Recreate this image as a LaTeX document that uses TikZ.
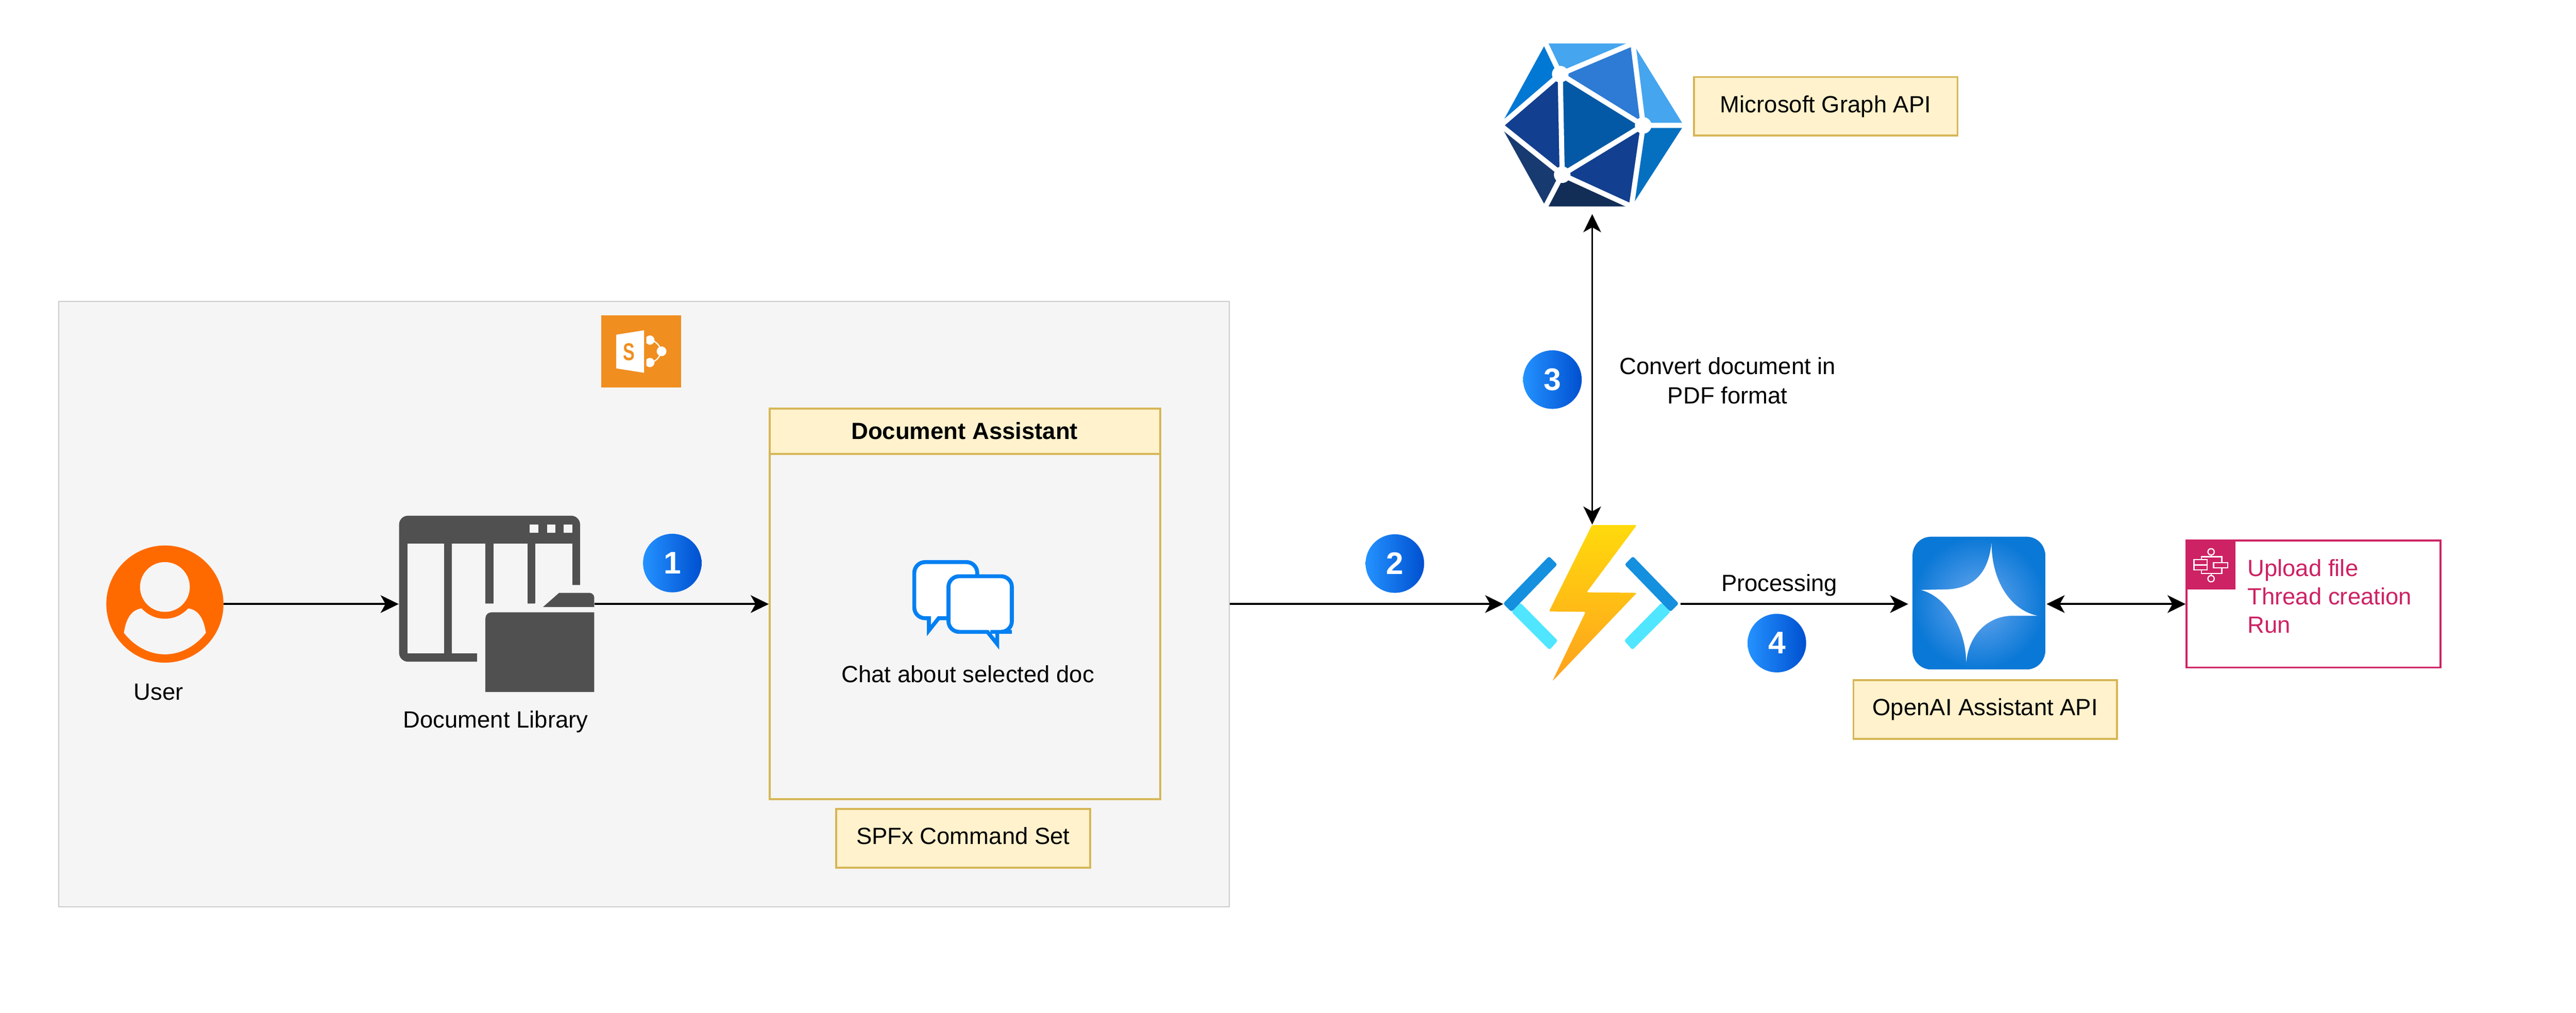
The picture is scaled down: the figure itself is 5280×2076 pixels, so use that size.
\documentclass[tikz,border=0pt]{standalone}
\usepackage{fontspec}
\setmainfont{Liberation Sans}
\usetikzlibrary{arrows.meta}

\definecolor{noteFill}{HTML}{FFF2CC}
\definecolor{noteLine}{HTML}{D6B656}
\definecolor{zoneFill}{HTML}{F5F5F5}
\definecolor{zoneLine}{HTML}{CCCCCC}
\definecolor{libDark}{HTML}{505050}
\definecolor{userOrange}{HTML}{FF6A00}
\definecolor{spOrange}{HTML}{F08E20}
\definecolor{chatBlue}{HTML}{0080F2}
\definecolor{logicPink}{HTML}{CD2264}
\definecolor{badgeL}{HTML}{2492FF}
\definecolor{badgeR}{HTML}{0050D0}
\definecolor{facetA}{HTML}{0078D4}
\definecolor{facetB}{HTML}{45A5EE}
\definecolor{facetC}{HTML}{2D7BD4}
\definecolor{facetD}{HTML}{0570C0}
\definecolor{facetE}{HTML}{123F8F}
\definecolor{facetF}{HTML}{122E57}
\definecolor{facetG}{HTML}{173A70}
\definecolor{facetH}{HTML}{0359A5}
\definecolor{funcCyan}{HTML}{50E6FF}
\definecolor{funcBlue}{HTML}{1490DF}
\definecolor{boltTop}{HTML}{FFDA0C}
\definecolor{boltLow}{HTML}{FFA01E}
\definecolor{starGlow}{HTML}{6CA9F0}
\definecolor{starEdge}{HTML}{0A78D6}

\tikzset{
    conn/.style={line width=1.14pt, -{Stealth[length=3.7mm,width=3.6mm,inset=1mm]}},
    biconn/.style={line width=1.14pt, {Stealth[length=3.7mm,width=3.6mm,inset=1mm]}-{Stealth[length=3.7mm,width=3.6mm,inset=1mm]}},
    lbl/.style={font=\fontsize{13.66}{17}\selectfont, inner sep=0pt, anchor=base},
    note/.style={draw=noteLine, fill=noteFill, line width=1.14pt, minimum width=5.4cm, minimum height=1.2cm, inner sep=0pt,
        font=\fontsize{13.66}{17}\selectfont, text height=0.35cm, text depth=0.1cm},
    badge/.style={circle, minimum size=1.2cm, inner sep=0pt, left color=badgeL, right color=badgeR, text=white,
        font=\fontsize{18.2}{20}\selectfont\bfseries},
    hook/.style={minimum width=#1, inner sep=0pt},
    chatline/.style={draw=chatBlue, fill=white, line width=2.3pt, miter limit=10},
    facetgap/.style={white, line width=3pt},
}

\begin{document}
\begin{tikzpicture}[x=0.01cm, y=-0.01cm]
    \useasboundingbox (0,0) rectangle (5280,2076);

    % sharepoint zone
    \node[draw=zoneLine, fill=zoneFill, line width=0.6pt, minimum width=23.98cm, minimum height=12.4cm, inner sep=0pt] (zone) at (1320,1238) {};
    \fill[spOrange] (1232,646) rectangle (1396,794);
    \fill[white] (1263,686) -- (1320,677) -- (1320,764) -- (1263,755) -- cycle;
    \node[inner sep=0pt, text=spOrange, font=\fontsize{14.2}{16}\selectfont\bfseries] (spletter) at (1289,721) {\scalebox{0.72}[1]{S}};
    \begin{scope}
        \clip (1325,680) rectangle (1370,760);
        \fill[white] (1332,697) circle (9.5);
        \fill[white] (1332,743) circle (9.5);
    \end{scope}
    \fill[white] (1356,720) circle (10);
    \draw[white, line width=0.7pt] (1338,698) .. controls (1346,702) and (1352,708) .. (1355,718);
    \draw[white, line width=0.7pt] (1338,742) .. controls (1346,738) and (1352,732) .. (1355,722);

    % user
    \node[circle, fill=userOrange, minimum size=2.4cm, inner sep=0pt] (user) at (338,1238) {};
    \fill[zoneFill] (338,1203) circle (51);
    \fill[zoneFill] (290,1247) .. controls (305,1262) and (320,1268) .. (338,1268)
        .. controls (356,1268) and (371,1262) .. (386,1247)
        .. controls (408,1250) and (418,1270) .. (422,1297)
        .. controls (400,1325) and (370,1341) .. (338,1341)
        .. controls (306,1341) and (276,1325) .. (254,1297)
        .. controls (258,1270) and (268,1250) .. (290,1247) -- cycle;
    \node[lbl] (userlbl) at (325,1435) {User};

    % document library
    \node[hook=4cm, minimum height=3.61cm] (lib) at (1018,1238) {};
    \fill[libDark, rounded corners=0.18cm] (818,1057) rectangle (1189,1356);
    \fill[zoneFill] (835,1114) rectangle (910,1339);
    \fill[zoneFill] (926,1114) rectangle (995,1339);
    \fill[zoneFill] (1012,1114) rectangle (1081,1260);
    \fill[zoneFill] (1097,1114) rectangle (1173,1260);
    \fill[zoneFill] (1086,1075) rectangle (1104,1092);
    \fill[zoneFill] (1121,1075) rectangle (1138,1092);
    \fill[zoneFill] (1155,1075) rectangle (1173,1092);
    \fill[zoneFill] (978,1425) -- (978,1237) -- (1096,1237) -- (1146,1199) -- (1225,1199) -- (1225,1425) -- cycle;
    \fill[libDark] (1218,1418) -- (995,1418) [rounded corners=0.12cm] -- (995,1255) -- (1100,1255) [sharp corners] -- (1218,1255) -- cycle;
    \fill[libDark] (1113,1244) -- (1146,1215) [rounded corners=0.1cm] -- (1218,1215) -- (1218,1236) [sharp corners] -- (1218,1244) -- cycle;
    \node[lbl] (liblbl) at (1016,1492) {Document Library};

    % command set panel
    \node[draw=noteLine, line width=1.14pt, minimum width=8cm, minimum height=8cm, inner sep=0pt] (panel) at (1978,1238) {};
    \node[draw=noteLine, fill=noteFill, line width=1.14pt, minimum width=8cm, minimum height=0.92cm, inner sep=0pt] (panelhead) at (1978,884) {};
    \node[lbl, font=\fontsize{13.66}{17}\selectfont\bfseries] (paneltitle) at (1977,900) {Document Assistant};
    \draw[chatline] (1904,1267) [rounded corners=0.22cm] -- (1874,1267) -- (1874,1152) -- (2003,1152) -- (2003,1267) -- (1960,1267) [sharp corners] -- (1924,1267) -- (1904,1292) -- cycle;
    \draw[chatline] (2024,1295) [rounded corners=0.22cm] -- (1944,1295) -- (1944,1181) -- (2074,1181) -- (2074,1295) -- (2052,1295) [sharp corners] -- (2044,1295) -- (2044,1320) -- cycle;
    \node[lbl] (chatlbl) at (1984,1399) {Chat about selected doc};
    \node[note, minimum width=5.2cm] (spfx) at (1974,1718) {SPFx Command Set};

    % graph icon
    \coordinate (gTL) at (3168,89);
    \coordinate (gTR) at (3347,89);
    \coordinate (gR) at (3451,257);
    \coordinate (gBR) at (3344,423);
    \coordinate (gBL) at (3168,423);
    \coordinate (gL) at (3076,257);
    \coordinate (gA) at (3198,152);
    \coordinate (gB) at (3368,257);
    \coordinate (gC) at (3202,358);
    \node[hook=3.75cm, minimum height=3.64cm] (graph) at (3263.5,256) {};
    \fill[facetA] (gTL) -- (gA) -- (gL) -- cycle;
    \fill[facetB] (gTL) -- (gTR) -- (gA) -- cycle;
    \fill[facetC] (gTR) -- (gB) -- (gA) -- cycle;
    \fill[facetB] (gTR) -- (gR) -- (gB) -- cycle;
    \fill[facetD] (gR) -- (gBR) -- (gB) -- cycle;
    \fill[facetE] (gBR) -- (gC) -- (gB) -- cycle;
    \fill[facetF] (gBR) -- (gBL) -- (gC) -- cycle;
    \fill[facetG] (gBL) -- (gL) -- (gC) -- cycle;
    \fill[facetE] (gL) -- (gA) -- (gC) -- cycle;
    \fill[facetH] (gA) -- (gB) -- (gC) -- cycle;
    \draw[facetgap] (gL) -- (gA) -- (gTL);
    \draw[facetgap] (gTR) -- (gA) -- (gC) -- (gL);
    \draw[facetgap] (gA) -- (gB) -- (gC) -- (gBL);
    \draw[facetgap] (gC) -- (gBR) -- (gB) -- (gR);
    \draw[facetgap] (gTR) -- (gB);
    \fill[white] (gA) circle (17);
    \fill[white] (gB) circle (17);
    \fill[white] (gC) circle (17);
    \node[note] (graphlbl) at (3742,218) {Microsoft Graph API};

    % function icon
    \node[hook=3.62cm, minimum height=3.24cm] (func) at (3263,1238) {};
    \fill[funcCyan, rounded corners=0.04cm] (3098,1254) -- (3116,1235) -- (3193,1313) -- (3176,1332) -- cycle;
    \fill[funcCyan, rounded corners=0.04cm] (3424,1254) -- (3406,1235) -- (3329,1313) -- (3346,1332) -- cycle;
    \fill[funcBlue, rounded corners=0.04cm] (3175,1140) -- (3192,1157) -- (3098,1254) -- (3081,1237) -- cycle;
    \fill[funcBlue, rounded corners=0.04cm] (3347,1140) -- (3330,1157) -- (3424,1254) -- (3441,1237) -- cycle;
    \shade[top color=boltTop, bottom color=boltLow, rounded corners=0.03cm]
        (3263,1076) -- (3355,1076) -- (3252,1214) -- (3355,1215) -- (3182,1396) -- (3250,1254) -- (3175,1253) -- cycle;

    % assistant icon
    \node[hook=2.82cm, minimum height=2.72cm] (assistant) at (4053,1238) {};
    \shade[inner color=starGlow, outer color=starEdge, rounded corners=0.38cm] (3920,1100) rectangle (4192,1372);
    \fill[white] (4082,1113) .. controls (4075,1180) and (4040,1208) .. (3985,1208) -- (3937,1209)
        .. controls (3990,1222) and (4030,1290) .. (4030,1358)
        .. controls (4035,1300) and (4075,1262) .. (4125,1262) -- (4176,1262)
        .. controls (4120,1250) and (4082,1190) .. (4082,1113) -- cycle;
    \node[note] (assistantlbl) at (4069,1454) {OpenAI Assistant API};

    % logic box
    \node[draw=logicPink, fill=white, line width=1.14pt, minimum width=5.2cm, minimum height=2.6cm, inner sep=0pt] (logic) at (4742,1238) {};
    \fill[logicPink] (4480,1106) rectangle (4582,1208);
    \begin{scope}[white, line width=0.7pt]
        \draw (4532,1131) circle (6.5);
        \draw (4532,1186) circle (6.5);
        \draw (4532,1138) -- (4532,1141);
        \draw (4532,1175) -- (4532,1179);
        \draw (4512,1147) -- (4512,1141) -- (4554,1141) -- (4554,1153);
        \draw (4512,1168) -- (4512,1175) -- (4554,1175) -- (4554,1164);
        \draw (4497,1147) rectangle (4524,1168);
        \draw (4497,1158) -- (4524,1158);
        \draw (4537,1153) rectangle (4566,1164);
    \end{scope}
    \node[lbl, anchor=west, align=left, text=logicPink, font=\fontsize{13.66}{16.6}\selectfont] (logiclbl) at (4606,1222) {Upload file\\Thread creation\\Run};

    % connectors
    \draw[conn] (user) -- (lib);
    \draw[conn] (lib) -- (panel);
    \draw[conn] (zone) -- (func);
    \draw[conn] (func) -- (assistant);
    \draw[biconn] (assistant) -- (logic);
    \draw[biconn] (graph.south) -- (graph.south |- func.north);

    % steps
    \node[badge] (step1) at (1378,1154) {1};
    \node[badge] (step2) at (2859,1155) {2};
    \node[badge] (step3) at (3182,778) {3};
    \node[badge] (step4) at (3642,1318) {4};

    \node[lbl, anchor=center, align=center] (convertlbl) at (3541,780) {Convert document in\\PDF format};
    \node[lbl] (processlbl) at (3647,1212) {Processing};
\end{tikzpicture}
\end{document}
